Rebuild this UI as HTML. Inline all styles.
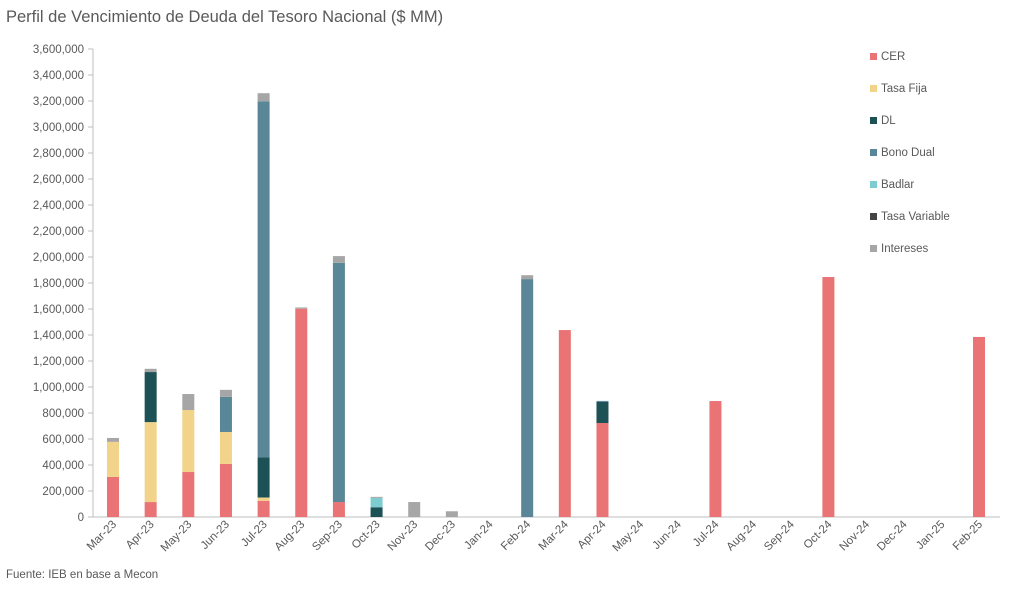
<!DOCTYPE html>
<html><head><meta charset="utf-8"><style>
body{margin:0;background:#fff;font-family:"Liberation Sans",sans-serif;}
svg text{font-family:"Liberation Sans",sans-serif;fill:#595959;}
</style></head><body>
<svg id="c" width="1024" height="586">
<text x="6" y="22" font-size="16.5">Perfil de Vencimiento de Deuda del Tesoro Nacional ($ MM)</text>
<text x="6" y="578" font-size="11.5">Fuente: IEB en base a Mecon</text>
<g id="plot"></g>
</svg>
<script>
const categories=["Mar-23","Apr-23","May-23","Jun-23","Jul-23","Aug-23","Sep-23","Oct-23","Nov-23","Dec-23","Jan-24","Feb-24","Mar-24","Apr-24","May-24","Jun-24","Jul-24","Aug-24","Sep-24","Oct-24","Nov-24","Dec-24","Jan-25","Feb-25"];
const seriesNames=["CER","Tasa Fija","DL","Bono Dual","Badlar","Tasa Variable","Intereses"];
const seriesColors=["#e97375","#f1d48a","#1c5256","#5a8797","#7dcdd0","#444444","#a6a6a6"];
const cer=[308000,115000,346000,408000,125000,1602000,115000,0,0,0,0,0,1438000,723000,0,0,892000,0,0,1846000,0,0,0,1385000];
const tasaFija=[270000,615000,477000,246000,25000,0,0,0,0,0,0,0,0,0,0,0,0,0,0,0,0,0,0,0];
const dl=[0,385000,0,0,308000,0,0,75000,0,0,0,0,0,162000,0,0,0,0,0,0,0,0,0,0];
const bonoDual=[0,0,0,270000,2740000,0,1840000,0,0,0,0,1830000,0,8000,0,0,0,0,0,0,0,0,0,0];
const badlar=[0,0,0,0,0,0,0,72000,0,0,0,0,0,0,0,0,0,0,0,0,0,0,0,0];
const tasaVariable=[0,0,0,0,0,0,0,0,0,0,0,0,0,0,0,0,0,0,0,0,0,0,0,0];
const intereses=[30000,25000,123000,54000,62000,10000,52000,8000,115000,44000,0,30000,0,0,0,0,0,0,0,0,0,0,0,0];
const yTicks=[0,200000,400000,600000,800000,1000000,1200000,1400000,1600000,1800000,2000000,2200000,2400000,2600000,2800000,3000000,3200000,3400000,3600000];
const series=[cer,tasaFija,dl,bonoDual,badlar,tasaVariable,intereses];

const NS="http://www.w3.org/2000/svg";
const g=document.getElementById('plot');
const y0=517,yTop=49,yMax=3600000,xFirst=113,xLast=979,barW=12;
const ys=v=>y0-v/yMax*(y0-yTop);
const xs=i=>xFirst+i*(xLast-xFirst)/(categories.length-1);
function mk(t,a){const e=document.createElementNS(NS,t);for(const k in a)e.setAttribute(k,a[k]);g.appendChild(e);return e;}
let ax=mk('line',{x1:93,y1:yTop,x2:93,y2:y0,stroke:'#bfbfbf'});


let bx=mk('line',{x1:93,y1:y0,x2:1000,y2:y0,stroke:'#bfbfbf'});


yTicks.forEach(v=>{
 const t=mk('line',{x1:88,y1:ys(v),x2:93,y2:ys(v),stroke:'#bfbfbf'});
 
 
 const l=mk('text',{x:84,y:ys(v)+4,'font-size':11.5,'text-anchor':'end'});
 l.textContent=v.toLocaleString('en-US');
 
 
});
categories.forEach((c,i)=>{
 let acc=0;
 series.forEach((s,k)=>{
  const v=s[i]; if(!v)return;
  const r=mk('rect',{x:xs(i)-barW/2,y:ys(acc+v),width:barW,height:ys(acc)-ys(acc+v),fill:seriesColors[k]});
  
  
  acc+=v;
 });
 const x=xs(i)+4,y=y0+8;
 const l=mk('text',{x:x,y:y,'font-size':11.5,'text-anchor':'end',transform:`rotate(-45 ${x} ${y})`});
 l.textContent=c;
 
 
});
seriesNames.forEach((n,k)=>{
 const y=56+k*32;
 const s=mk('rect',{x:870,y:y-3,width:7,height:7,fill:seriesColors[k]});
 
 
 const t=mk('text',{x:881,y:y+4,'font-size':11.5});
 t.textContent=n;
 
 
});
</script>
</body></html>
